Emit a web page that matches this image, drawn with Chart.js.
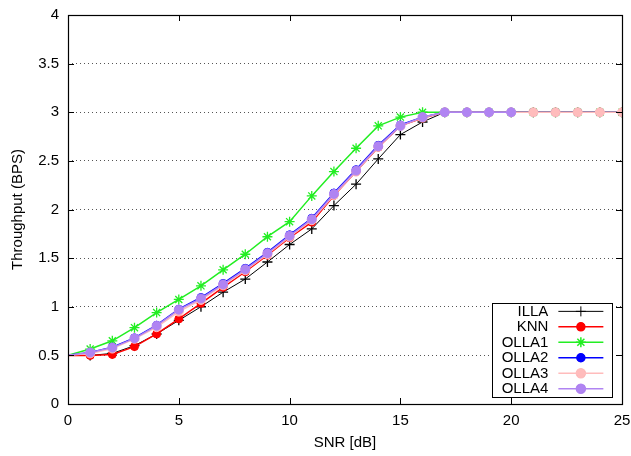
<!DOCTYPE html>
<html><head><meta charset="utf-8">
<script src="https://cdn.jsdelivr.net/npm/chart.js@4.4.1/dist/chart.umd.min.js"></script>
<style>html,body{margin:0;padding:0;background:#fff}#w{width:631px;height:456px}</style>
</head><body><div id="w"><canvas id="c"></canvas></div>
<script>
const snr = [0,1,2,3,4,5,6,7,8,9,10,11,12,13,14,15,16,17,18,19,20,21,22,23,24,25];
const illa  = [0.5,0.5,0.52,0.6,0.72,0.86,1.0,1.15,1.285,1.46,1.64,1.80,2.04,2.26,2.52,2.77,2.90,3,3,3,3,3,3,3,3,3];
const knn   = [0.5,0.5,0.51,0.59,0.72,0.875,1.035,1.20,1.36,1.53,1.71,1.87,2.145,2.39,2.64,2.86,2.94,3,3,3,3,3,3,3,3,3];
const olla1 = [0.5,0.565,0.65,0.785,0.94,1.075,1.215,1.38,1.54,1.72,1.875,2.14,2.39,2.63,2.86,2.95,3,3,3,3,3,3,3,3,3,3];
const olla2 = [0.5,0.53,0.585,0.68,0.81,0.975,1.095,1.24,1.395,1.56,1.74,1.91,2.17,2.41,2.66,2.87,2.95,3,3,3,3,3,3,3,3,3];
const olla3 = [0.5,0.52,0.57,0.67,0.79,0.95,1.07,1.22,1.375,1.54,1.72,1.89,2.15,2.39,2.645,2.86,2.945,3,3,3,3,3,3,3,3,3];
const olla4 = [0.5,0.53,0.58,0.675,0.805,0.97,1.085,1.23,1.385,1.55,1.73,1.90,2.16,2.40,2.65,2.86,2.95,3,3,3,3];
const seriesNames = ['ILLA','KNN','OLLA1','OLLA2','OLLA3','OLLA4'];
const xTicks = [0,5,10,15,20,25];
const yTicks = [0,0.5,1,1.5,2,2.5,3,3.5,4];

const FONT = "'Liberation Sans', Arial, sans-serif";
function pts(arr){ return arr.map((v,i)=>({x:snr[i], y:v})); }
const rad = r => (ctx => ctx.dataIndex === 0 ? 0 : r);

const styles = [
  {color:'#000000', style:'cross', r:5, w:1},
  {color:'#ff0000', style:'circle', r:4, w:1.5},
  {color:'#22ee22', style:'star', r:5, w:1.5},
  {color:'#0000ff', style:'circle', r:4, w:1.5},
  {color:'#ffbcbc', style:'circle', r:4.5, w:1.5},
  {color:'#b084f2', style:'circle', r:4.5, w:1.5},
];
const allData = [illa, knn, olla1, olla2, olla3, olla4];

const datasets = allData.map((d,i)=>({
  label: seriesNames[i],
  data: pts(d),
  borderColor: styles[i].color,
  backgroundColor: styles[i].color,
  pointBorderColor: styles[i].color,
  pointBackgroundColor: styles[i].color,
  borderWidth: styles[i].w,
  pointStyle: styles[i].style,
  pointRadius: rad(styles[i].r),
  pointHoverRadius: rad(styles[i].r),
  pointBorderWidth: styles[i].style==='circle' ? 1 : 1.3,
  tension: 0,
  fill: false,
  clip: 0,
  order: 6 - i
}));

const framePlugin = {
  id:'frame',
  afterDatasetsDraw(chart){
    const {ctx, chartArea:a, scales:{x,y}} = chart;
    ctx.save();
    ctx.strokeStyle = '#000';
    ctx.lineWidth = 1;
    const L = 6;
    ctx.beginPath();
    xTicks.forEach(v=>{
      const px = Math.round(x.getPixelForValue(v))+0.5;
      if (v>0 && v<25){
        ctx.moveTo(px, a.bottom); ctx.lineTo(px, a.bottom-L);
        ctx.moveTo(px, a.top); ctx.lineTo(px, a.top+L);
      }
    });
    yTicks.forEach(v=>{
      const py = Math.round(y.getPixelForValue(v))+0.5;
      if (v>0 && v<4){
        ctx.moveTo(a.left, py); ctx.lineTo(a.left+L, py);
        ctx.moveTo(a.right, py); ctx.lineTo(a.right-L, py);
      }
    });
    ctx.stroke();
    // legend box
    const bx0 = x.getPixelForValue(19.15), bx1 = x.getPixelForValue(24.55);
    const by0 = y.getPixelForValue(1.04), by1 = y.getPixelForValue(0.07);
    ctx.fillStyle = '#fff';
    ctx.fillRect(bx0, by0, bx1-bx0, by1-by0);
    ctx.lineWidth = 1;
    ctx.strokeRect(Math.round(bx0)+0.5, Math.round(by0)+0.5, Math.round(bx1-bx0), Math.round(by1-by0));
    const p20 = Math.round(x.getPixelForValue(20))+0.5;
    ctx.beginPath(); ctx.moveTo(p20, a.bottom); ctx.lineTo(p20, a.bottom-L); ctx.stroke();
    ctx.font = '15px ' + FONT;
    ctx.textAlign = 'right';
    ctx.textBaseline = 'middle';
    const rowH = (by1-by0)/6.1;
    seriesNames.forEach((n,i)=>{
      const cy = by0 + rowH*(i+0.55);
      ctx.fillStyle = '#000';
      ctx.fillText(n, bx0 + 56, cy+0.5);
      const s = styles[i];
      ctx.strokeStyle = s.color;
      ctx.lineWidth = s.w;
      ctx.beginPath();
      ctx.moveTo(bx0+66, cy); ctx.lineTo(bx0+111, cy);
      ctx.stroke();
      Chart.helpers.drawPoint(ctx, {pointStyle:s.style, radius:s.r, borderWidth:1.3, rotation:0}, bx0+88.5, cy);
      ctx.fillStyle = s.color;
      if (s.style==='circle'){ ctx.beginPath(); ctx.arc(bx0+88.5, cy, s.r, 0, Math.PI*2); ctx.fill(); }
    });
    ctx.strokeStyle = '#000';
    ctx.lineWidth = 1.2;
    ctx.strokeRect(a.left+0.5, a.top+0.5, a.right-a.left, a.bottom-a.top);
    ctx.restore();
  }
};

new Chart(document.getElementById('c'), {
  type:'line',
  data:{datasets},
  plugins:[framePlugin],
  options:{
    responsive:true, maintainAspectRatio:false, animation:false,
    layout:{padding:{top:15, right:9, left:0, bottom:0}},
    plugins:{legend:{display:false}, tooltip:{enabled:false}},
    elements:{line:{borderJoinStyle:'miter'}},
    scales:{
      x:{type:'linear', min:0, max:25,
         afterBuildTicks: s => { s.ticks = xTicks.map(v=>({value:v})); },
         grid:{display:false, drawTicks:false},
         border:{display:false},
         ticks:{padding:8, color:'#000', font:{family:FONT, size:15}, maxRotation:0, autoSkip:false,
                callback: v => String(v)},
         title:{display:true, text:'SNR [dB]', color:'#000', font:{family:FONT, size:15}, padding:{top:2,bottom:4}},
         afterFit: s => { s.height = 52; s.paddingRight = 0; s.paddingLeft = 0; }
      },
      y:{type:'linear', min:0, max:4,
         afterBuildTicks: s => { s.ticks = yTicks.map(v=>({value:v})); },
         grid:{drawTicks:false, lineWidth:1,
               color: c => (c.tick && (c.tick.value===0 || c.tick.value===4)) ? 'rgba(0,0,0,0)' : '#555'},
         border:{display:false, dash:[1,3]},
         ticks:{padding:9, color:'#000', font:{family:FONT, size:15}, autoSkip:false,
                callback: v => String(v)},
         title:{display:true, text:'Throughput (BPS)', color:'#000', font:{family:FONT, size:15}, padding:{top:9,bottom:0}},
         afterFit: s => { s.width = 68; s.paddingTop = 0; s.paddingBottom = 0; }
      }
    }
  }
});
</script></body></html>
